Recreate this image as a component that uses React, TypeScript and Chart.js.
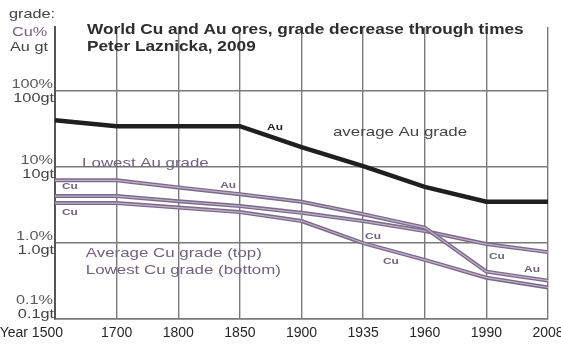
import React, { useEffect, useRef } from "react";
import { Chart, registerables } from "chart.js";

Chart.register(...registerables);

// Years on the horizontal axis (evenly spaced categories)
const categories = ["1500", "1700", "1800", "1850", "1900", "1935", "1960", "1990", "2008"];

// Ore grades (Cu in %, Au in g/t), log scale
const averageAuGrade = [41.5, 34.6, 34.6, 34.6, 18.3, 10.3, 5.5, 3.5, 3.5];
const lowestAuGrade = [6.7, 6.7, 5.4, 4.4, 3.5, 2.4, 1.6, 0.42, 0.32];
const averageCuGrade = [4.15, 4.15, 3.55, 3.07, 2.5, 1.95, 1.44, 0.97, 0.76];
const lowestCuGrade = [3.36, 3.36, 2.93, 2.56, 1.95, 1.0, 0.6, 0.35, 0.26];

// Vertical axis ticks and their two-line labels
const yTickValues = [0.1, 1, 10, 100];
const yTickPercent = ["0.1%", "1.0%", "10%", "100%"];
const yTickGrams = ["0.1gt", "1.0gt", "10gt", "100gt"];
const yMin = 0.1;
const yMax = 700;

const titleLines = ["World Cu and Au ores, grade decrease through times", "Peter Laznicka, 2009"];
const axisCaption = ["grade:", "Cu%", "Au gt"];
const xAxisPrefix = "Year ";

// In-plot notes, anchored in data space: x = fractional category index, y = grade
type Note = { text: string; xi: number; y: number; kind: "big" | "bigDark" | "small" | "smallDark"; align: "left" | "center" };
const notes: Note[] = [
  { text: "average Au grade", xi: 4.51, y: 28.9, kind: "bigDark", align: "left" },
  { text: "Lowest Au grade", xi: 0.44, y: 11.2, kind: "big", align: "left" },
  { text: "Average Cu grade (top)", xi: 0.5, y: 0.74, kind: "big", align: "left" },
  { text: "Lowest Cu grade (bottom)", xi: 0.5, y: 0.44, kind: "big", align: "left" },
  { text: "Au", xi: 3.57, y: 33.5, kind: "smallDark", align: "center" },
  { text: "Cu", xi: 0.24, y: 5.6, kind: "small", align: "center" },
  { text: "Cu", xi: 0.24, y: 2.56, kind: "small", align: "center" },
  { text: "Au", xi: 2.81, y: 5.8, kind: "small", align: "center" },
  { text: "Cu", xi: 5.16, y: 1.24, kind: "small", align: "center" },
  { text: "Cu", xi: 5.45, y: 0.58, kind: "small", align: "center" },
  { text: "Cu", xi: 7.17, y: 0.67, kind: "small", align: "center" },
  { text: "Au", xi: 7.74, y: 0.455, kind: "small", align: "center" },
];

const SANS = "'Liberation Sans', Arial, sans-serif";
const STRETCH = 1.25;
const PURPLE = "#7c6a8a";
const PURPLE_TEXT = "#6f6280";

function drawText(
  ctx: CanvasRenderingContext2D,
  text: string,
  x: number,
  y: number,
  font: string,
  color: string,
  align: "left" | "center" | "right",
  stretch: number
) {
  ctx.save();
  ctx.font = font;
  ctx.fillStyle = color;
  ctx.textBaseline = "middle";
  ctx.textAlign = "left";
  const w = ctx.measureText(text).width * stretch;
  const left = align === "left" ? x : align === "right" ? x - w : x - w / 2;
  ctx.translate(left, y);
  ctx.scale(stretch, 1);
  ctx.fillText(text, 0, 0);
  ctx.restore();
}

// Light centre stroke that gives the purple lines their doubled look
const lineHighlight = {
  id: "lineHighlight",
  afterDatasetDraw(chart: any, args: any) {
    const ds = chart.data.datasets[args.index];
    if (!ds.highlight) return;
    const pts = args.meta.data;
    const ctx = chart.ctx as CanvasRenderingContext2D;
    ctx.save();
    ctx.beginPath();
    pts.forEach((p: any, i: number) => (i === 0 ? ctx.moveTo(p.x, p.y) : ctx.lineTo(p.x, p.y)));
    ctx.strokeStyle = ds.highlight;
    ctx.lineWidth = 1.2;
    ctx.lineJoin = "round";
    ctx.stroke();
    ctx.restore();
  },
};

const textLayer = {
  id: "textLayer",
  afterDraw(chart: any) {
    const ctx = chart.ctx as CanvasRenderingContext2D;
    const xs = chart.scales.x;
    const ys = chart.scales.y;
    const area = chart.chartArea;

    // caption at the top-left
    drawText(ctx, axisCaption[0], 9, 14, `13px ${SANS}`, "#444", "left", STRETCH);
    drawText(ctx, axisCaption[1], 12, 32, `13px ${SANS}`, PURPLE_TEXT, "left", STRETCH);
    drawText(ctx, axisCaption[2], 10, 47, `13px ${SANS}`, "#444", "left", STRETCH);

    // title
    drawText(ctx, titleLines[0], 87, 30, `bold 13.8px ${SANS}`, "#2e2e2e", "left", STRETCH);
    drawText(ctx, titleLines[1], 87, 47, `bold 13.8px ${SANS}`, "#2e2e2e", "left", STRETCH);

    // y tick labels, percent above and g/t below the grid line
    yTickValues.forEach((v, i) => {
      let py = ys.getPixelForValue(v);
      if (py + 4 > area.bottom - 8) py = area.bottom - 12;
      drawText(ctx, yTickPercent[i], area.left - 2, py - 7, `13px ${SANS}`, "#5a5a5a", "right", STRETCH);
      drawText(ctx, yTickGrams[i], area.left - 1, py + 7, `13px ${SANS}`, "#444", "right", STRETCH);
    });

    // x tick labels
    categories.forEach((c, i) => {
      const px = xs.getPixelForValue(i);
      const font = `14px ${SANS}`;
      if (i === 0) {
        drawText(ctx, xAxisPrefix + c, px + 8, area.bottom + 14, font, "#262626", "right", 1);
      } else {
        drawText(ctx, c, px, area.bottom + 14, font, "#262626", "center", 1);
      }
    });

    // notes in the plot
    notes.forEach((n) => {
      const px = xs.getPixelForValue(n.xi);
      const py = ys.getPixelForValue(n.y);
      const big = n.kind === "big" || n.kind === "bigDark";
      const dark = n.kind === "bigDark" || n.kind === "smallDark";
      const font = big ? `13.5px ${SANS}` : `bold 9.5px ${SANS}`;
      const color = dark ? (big ? "#444" : "#222") : PURPLE_TEXT;
      drawText(ctx, n.text, px, py, font, color, n.align, STRETCH);
    });
  },
};

export default function App() {
  const canvasRef = useRef<HTMLCanvasElement | null>(null);

  useEffect(() => {
    const canvas = canvasRef.current;
    if (!canvas) return;
    const purpleSet = (label: string, data: number[]) => ({
      label,
      data,
      borderColor: PURPLE,
      borderWidth: 4,
      pointRadius: 0,
      tension: 0,
      fill: false,
      highlight: "rgba(214, 200, 222, 0.75)",
    });
    const chart = new Chart(canvas, {
      type: "line",
      data: {
        labels: categories,
        datasets: [
          {
            label: "average Au grade",
            data: averageAuGrade,
            borderColor: "#1f1f1f",
            borderWidth: 4.5,
            pointRadius: 0,
            tension: 0,
            fill: false,
          },
          purpleSet("Lowest Au grade", lowestAuGrade),
          purpleSet("Average Cu grade", averageCuGrade),
          purpleSet("Lowest Cu grade", lowestCuGrade),
        ] as any,
      },
      options: {
        animation: false,
        responsive: false,
        maintainAspectRatio: false,
        layout: { padding: { left: 55, right: 13, top: 27, bottom: 26 } },
        plugins: {
          legend: { display: false },
          tooltip: { enabled: false },
          title: { display: false },
        },
        scales: {
          x: {
            type: "category",
            offset: false,
            ticks: { display: false },
            grid: { color: "#7a7a7a", lineWidth: 1.4, drawTicks: false },
            border: { display: true, color: "#7a7a7a", width: 1.4 },
            afterFit: (s: any) => {
              s.height = 0;
            },
          },
          y: {
            type: "logarithmic",
            min: yMin,
            max: yMax,
            ticks: { display: false },
            grid: { color: "#7a7a7a", lineWidth: 1.4, drawTicks: false },
            border: { display: true, color: "#555", width: 2 },
            afterBuildTicks: (s: any) => {
              s.ticks = yTickValues.map((v) => ({ value: v }));
            },
            afterFit: (s: any) => {
              s.width = 0;
            },
          },
        },
      } as any,
      plugins: [lineHighlight, textLayer],
    });
    return () => chart.destroy();
  }, []);

  return (
    <div style={{ position: "absolute", left: 0, top: 0, width: 561, height: 345, background: "#fff" }}>
      <canvas ref={canvasRef} width={561} height={345} style={{ display: "block", width: 561, height: 345 }} />
    </div>
  );
}
